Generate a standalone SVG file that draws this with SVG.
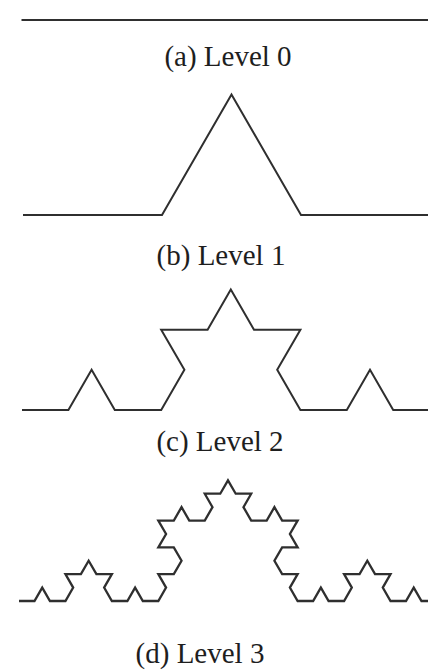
<svg xmlns="http://www.w3.org/2000/svg" width="428" height="671" viewBox="0 0 428 671">
<style>
.curve{fill:none;stroke:#2f2f2f;stroke-width:2;stroke-linejoin:miter;stroke-linecap:butt}
.lbl{font-family:"Liberation Serif","Times New Roman",serif;font-size:29px;fill:#1e1e1e;text-anchor:middle}
</style>
<rect width="428" height="671" fill="#ffffff"/>
<g id="level0">
<path class="curve" d="M21.5 20 H430"/>
<text class="lbl" x="228" y="66">(a) Level 0</text>
</g>
<g id="level1">
<path class="curve" d="M23 215 H162 L231.5 94.6 L301 215 H440"/>
<text class="lbl" x="221" y="265">(b) Level 1</text>
</g>
<g id="level2">
<path class="curve" d="M22 410 L68.4 410 L91.6 369.82 L114.8 410 L161.2 410 L184.4 369.82 L161.2 329.64 L207.6 329.64 L230.8 289.46 L254 329.64 L300.4 329.64 L277.2 369.82 L300.4 410 L346.8 410 L370 369.82 L393.2 410 L439.6 410"/>
<text class="lbl" x="220" y="451">(c) Level 2</text>
</g>
<g id="level3">
<path class="curve" style="stroke-width:2.3" d="M19 601
h15.48 l7.74-13.41 l7.74 13.41 h15.48
l7.74-13.41 l-7.74-13.41 h15.48 l7.74-13.41
l7.74 13.41 h15.48 l-7.74 13.41 l7.74 13.41
h15.48 l7.74-13.41 l7.74 13.41 h15.48
l7.74-13.41 l-7.74-13.41 h15.48 l7.74-13.41
l-7.74-13.41 h-15.48 l7.74-13.41 l-7.74-13.41
h15.48 l7.74-13.41 l7.74 13.41 h15.48
l7.74-13.41 l-7.74-13.41 h15.48 l7.74-13.41
l7.74 13.41 h15.48 l-7.74 13.41 l7.74 13.41
h15.48 l7.74-13.41 l7.74 13.41 h15.48
l-7.74 13.41 l7.74 13.41 h-15.48 l-7.74 13.41
l7.74 13.41 h15.48 l-7.74 13.41 l7.74 13.41
h15.48 l7.74-13.41 l7.74 13.41 h15.48
l7.74-13.41 l-7.74-13.41 h15.48 l7.74-13.41
l7.74 13.41 h15.48 l-7.74 13.41 l7.74 13.41
h15.48 l7.74-13.41 l7.74 13.41 h15.48"/>
<text class="lbl" x="200" y="663">(d) Level 3</text>
</g>
</svg>
